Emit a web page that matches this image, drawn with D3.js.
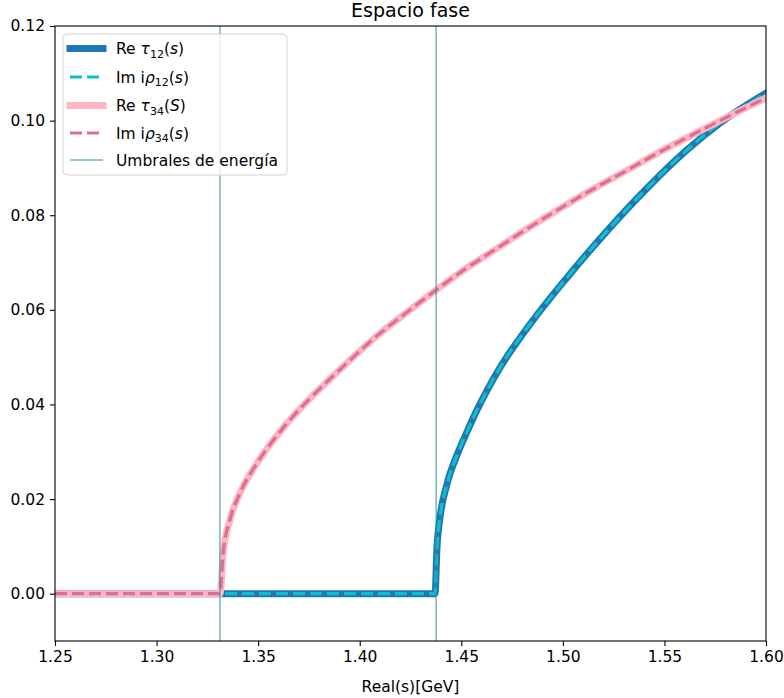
<!DOCTYPE html>
<html>
<head>
<meta charset="utf-8">
<script src="https://cdn.jsdelivr.net/npm/d3@7"></script>
<style>
  body { margin: 0; background: #fff; }
  svg text { font-family: "DejaVu Sans", sans-serif; fill: #000; }
</style>
</head>
<body>
<div id="app"></div>
<script>
// datos
const s12 = [1.25, 1.4371, 1.4380, 1.4395, 1.4430, 1.4479, 1.4528, 1.4577, 1.4631, 1.4691,
  1.4853, 1.5020, 1.5183, 1.5414, 1.5611, 1.5774, 1.60];
const tau12 = [0, 0, 0.0095, 0.0160, 0.0232, 0.0293, 0.0342, 0.0388, 0.0433, 0.0478,
  0.0578, 0.0668, 0.0750, 0.0857, 0.0938, 0.0995, 0.1058];
const rho12 = tau12.slice(); // Im i rho12 coincide con Re tau12

const s34 = [1.25, 1.3312, 1.3328, 1.3361, 1.3411, 1.3475, 1.3544, 1.3642, 1.3740, 1.3839,
  1.3918, 1.4085, 1.4248, 1.4376, 1.4508, 1.4676, 1.4838, 1.5001, 1.5168, 1.5316,
  1.5444, 1.5611, 1.5774, 1.60];
const tau34 = [0, 0, 0.0087, 0.0156, 0.0213, 0.0263, 0.0307, 0.0360, 0.0406, 0.0448,
  0.0480, 0.0545, 0.0600, 0.0642, 0.0683, 0.0730, 0.0775, 0.0818, 0.0860, 0.0895,
  0.0926, 0.0964, 0.1000, 0.1048];
const rho34 = tau34.slice();

const umbrales = [1.3312, 1.4376];
const xTicks = [1.25, 1.30, 1.35, 1.40, 1.45, 1.50, 1.55, 1.60];
const yTicks = [0.00, 0.02, 0.04, 0.06, 0.08, 0.10, 0.12];

const width = 784, height = 698;
const padding = { left: 55, right: 18, top: 26, bottom: 57 };
const chartWidth = width - padding.left - padding.right;
const chartHeight = height - padding.top - padding.bottom;

const svg = d3.select('#app').append('svg')
  .attr('width', width)
  .attr('height', height);

const xScale = d3.scaleLinear().domain([1.25, 1.60]).range([0, chartWidth]);
const yScale = d3.scaleLinear().domain([-0.01, 0.12]).range([chartHeight, 0]);

svg.append('defs').append('clipPath').attr('id', 'clip')
  .append('rect').attr('width', chartWidth).attr('height', chartHeight);

const g = svg.append('g').attr('transform', `translate(${padding.left},${padding.top})`);
const plot = g.append('g').attr('clip-path', 'url(#clip)');

const line = d3.line()
  .x(d => xScale(d[0]))
  .y(d => yScale(d[1]))
  .curve(d3.curveMonotoneX);

const series = [
  { label: 'tau12', s: s12, v: tau12, color: '#1f77b4', w: 7, dash: null },
  { label: 'rho12', s: s12, v: rho12, color: '#0fbfc8', w: 3.2, dash: '12,5' },
  { label: 'tau34', s: s34, v: tau34, color: '#ffb6c1', w: 7, dash: null },
  { label: 'rho34', s: s34, v: rho34, color: '#db7093', w: 3.2, dash: '12,5' }
];

series.forEach(sr => {
  plot.append('path')
    .datum(sr.s.map((x, i) => [x, sr.v[i]]))
    .attr('d', line)
    .attr('fill', 'none')
    .attr('stroke', sr.color)
    .attr('stroke-width', sr.w)
    .attr('stroke-linejoin', 'round')
    .attr('stroke-linecap', sr.dash ? 'butt' : 'square')
    .attr('stroke-dasharray', sr.dash);
});

// umbrales de energía
plot.selectAll('.umbral')
  .data(umbrales)
  .enter()
  .append('line')
  .attr('x1', d => xScale(d)).attr('x2', d => xScale(d))
  .attr('y1', 0).attr('y2', chartHeight)
  .attr('stroke', '#2a9494')
  .attr('stroke-width', 1);

// ejes
const xAxis = d3.axisBottom(xScale).tickValues(xTicks).tickFormat(d3.format('.2f'))
  .tickSize(5).tickPadding(5);
const yAxis = d3.axisLeft(yScale).tickValues(yTicks).tickFormat(d3.format('.2f'))
  .tickSize(5).tickPadding(5);

const gx = g.append('g').attr('transform', `translate(0,${chartHeight})`).call(xAxis);
const gy = g.append('g').call(yAxis);
[gx, gy].forEach(a => {
  a.select('.domain').remove();
  a.selectAll('text').style('font-size', '15.5px');
  a.selectAll('line').attr('stroke', '#000').attr('stroke-width', 1.1);
});

g.append('rect')
  .attr('width', chartWidth).attr('height', chartHeight)
  .attr('fill', 'none').attr('stroke', '#000').attr('stroke-width', 1.1);

// título y etiqueta
svg.append('text')
  .attr('x', padding.left + chartWidth / 2).attr('y', 17)
  .attr('text-anchor', 'middle').style('font-size', '19px')
  .text('Espacio fase');
svg.append('text')
  .attr('x', padding.left + chartWidth / 2).attr('y', 692)
  .attr('text-anchor', 'middle').style('font-size', '15.5px')
  .text('Real(s)[GeV]');

// leyenda
const legend = svg.append('g').attr('transform', 'translate(63,34)');
legend.append('rect')
  .attr('width', 224).attr('height', 141).attr('rx', 4)
  .attr('fill', 'rgba(255,255,255,0.8)')
  .attr('stroke', '#d4d4d4').attr('stroke-width', 1);

const items = [
  { pre: 'Re ', sym: 'τ', sub: '12', arg: 's', color: '#1f77b4', w: 7, dash: null },
  { pre: 'Im i', sym: 'ρ', sub: '12', arg: 's', color: '#0fbfc8', w: 3.2, dash: '12,5' },
  { pre: 'Re ', sym: 'τ', sub: '34', arg: 'S', color: '#ffb6c1', w: 7, dash: null },
  { pre: 'Im i', sym: 'ρ', sub: '34', arg: 's', color: '#db7093', w: 3.2, dash: '12,5' },
  { text: 'Umbrales de energía', color: '#2a9494', w: 1, dash: null }
];
const rowY = [14.5, 43, 71.5, 99, 126];

items.forEach((it, i) => {
  const y = rowY[i];
  legend.append('line')
    .attr('x1', 7).attr('x2', 40).attr('y1', y).attr('y2', y)
    .attr('stroke', it.color).attr('stroke-width', it.w)
    .attr('stroke-linecap', it.dash || it.w < 2 ? 'butt' : 'square')
    .attr('stroke-dasharray', it.dash);
  const t = legend.append('text').attr('x', 53).attr('y', y + 5.5).style('font-size', '15.5px');
  if (it.text) {
    t.text(it.text);
  } else {
    t.append('tspan').text(it.pre);
    t.append('tspan').style('font-style', 'italic').text(it.sym);
    t.append('tspan').attr('dy', 3.5).style('font-size', '11px').text(it.sub);
    t.append('tspan').attr('dy', -3.5).text('(');
    t.append('tspan').style('font-style', 'italic').text(it.arg);
    t.append('tspan').text(')');
  }
});
</script>
</body>
</html>
